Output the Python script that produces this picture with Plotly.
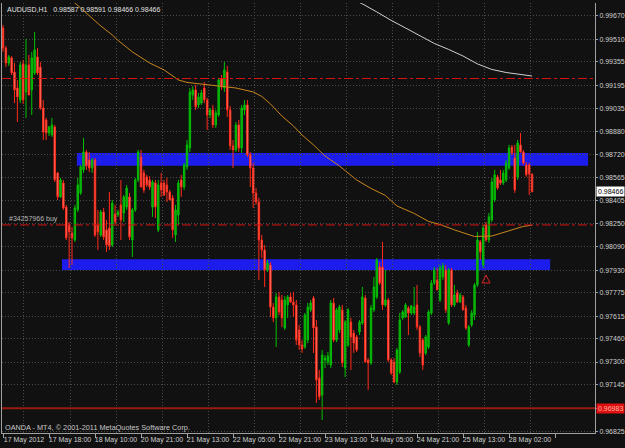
import plotly.graph_objects as go

# ---------------- data (AUDUSD H1) ----------------
opens = [0.99588,0.99451,0.99348,0.99383,0.99287,0.99177,0.99095,0.99342,0.99150,0.99335,
0.99164,0.99280,0.99390,0.99321,0.99040,0.98958,0.98869,0.98855,0.98910,0.98595,
0.98431,0.98526,0.98362,0.98239,0.98184,0.98136,0.98342,0.98458,0.98616,0.98739,
0.98684,0.98629,0.98684,0.98239,0.98170,0.98328,0.98205,0.98218,0.98102,0.98314,
0.98307,0.98376,0.98321,0.98362,0.98431,0.98136,0.98342,0.98547,0.98705,0.98595,
0.98568,0.98547,0.98362,0.98526,0.98205,0.98526,0.98526,0.98513,0.98465,0.98424,
0.98170,0.98307,0.98547,0.98499,0.98636,0.98766,0.99129,0.99164,0.99061,0.99074,
0.99177,0.99095,0.98992,0.99027,0.98924,0.98992,0.99239,0.99177,0.99287,0.99027,
0.98780,0.98753,0.98924,0.98766,0.99027,0.99061,0.98718,0.98629,0.98458,0.98396,
0.98136,0.98068,0.97931,0.97965,0.97677,0.97602,0.97746,0.97725,0.97533,0.97691,
0.97746,0.97711,0.97691,0.97520,0.97417,0.97403,0.97451,0.97657,0.97739,0.97540,
0.97190,0.97074,0.97314,0.97300,0.97280,0.97704,0.97451,0.97520,0.97657,0.97259,
0.97417,0.97574,0.97499,0.97472,0.97506,0.97567,0.97739,0.97314,0.97293,0.97657,
0.97746,0.97951,0.97951,0.97691,0.97725,0.97314,0.97300,0.97163,0.97232,0.97602,
0.97609,0.97670,0.97636,0.97636,0.97691,0.97540,0.97451,0.97362,0.97403,0.97636,
0.97841,0.97862,0.97725,0.97883,0.97931,0.97567,0.97931,0.97691,0.97773,0.97711,
0.97746,0.97670,0.97417,0.97554,0.97622,0.97828,0.98123,0.97965,0.98239,0.98136,
0.98273,0.98410,0.98568,0.98547,0.98526,0.98547,0.98629,0.98773,0.98698,0.98568,
0.98787,0.98739,0.98650,0.98650,0.98587]
highs = [0.99609,0.99465,0.99403,0.99396,0.99348,0.99232,0.99355,0.99369,0.99513,0.99403,
0.99424,0.99561,0.99451,0.99355,0.99095,0.98972,0.98917,0.98972,0.98924,0.98602,
0.98561,0.98547,0.98376,0.98259,0.98225,0.98376,0.98561,0.98650,0.98835,0.98753,
0.98739,0.98698,0.98698,0.98342,0.98342,0.98355,0.98273,0.98465,0.98410,0.98376,
0.98342,0.98547,0.98444,0.98513,0.98458,0.98355,0.98561,0.98753,0.98753,0.98616,
0.98582,0.98574,0.98547,0.98547,0.98547,0.98595,0.98547,0.98561,0.98479,0.98444,
0.98376,0.98547,0.98582,0.98663,0.98821,0.99177,0.99191,0.99198,0.99143,0.99164,
0.99218,0.99109,0.99040,0.99061,0.99027,0.99246,0.99266,0.99355,0.99328,0.99054,
0.98821,0.98944,0.98958,0.99061,0.99095,0.99095,0.98739,0.98663,0.98492,0.98424,
0.98170,0.98102,0.97999,0.97985,0.97704,0.97773,0.97780,0.97759,0.97752,0.97759,
0.97773,0.97780,0.97725,0.97554,0.97451,0.97636,0.97704,0.97725,0.97752,0.97588,
0.97246,0.97383,0.97348,0.97369,0.97725,0.97739,0.97670,0.97691,0.97691,0.97588,
0.97670,0.97602,0.97520,0.97485,0.97588,0.97814,0.97759,0.97327,0.97691,0.97883,
0.98013,0.97985,0.98123,0.97931,0.97739,0.97327,0.97327,0.97396,0.97636,0.97657,
0.97704,0.97684,0.97691,0.97814,0.97828,0.97554,0.97465,0.97485,0.97657,0.97862,
0.97951,0.97944,0.97965,0.97979,0.97965,0.97944,0.97944,0.97828,0.97794,0.97773,
0.97759,0.97691,0.97554,0.97657,0.97841,0.98191,0.98136,0.98239,0.98259,0.98321,
0.98561,0.98616,0.98582,0.98616,0.98616,0.98684,0.98787,0.98787,0.98787,0.98821,
0.98869,0.98753,0.98670,0.98663,0.98591]
lows = [0.99424,0.99321,0.99328,0.99266,0.99074,0.98944,0.99074,0.99068,0.98972,0.99129,
0.98992,0.99266,0.99266,0.99027,0.98821,0.98821,0.98848,0.98842,0.98533,0.98410,
0.98424,0.98342,0.98136,0.97944,0.97965,0.98123,0.98328,0.98444,0.98595,0.98616,
0.98602,0.98595,0.98157,0.98068,0.98157,0.98136,0.98054,0.98068,0.98088,0.98246,
0.98294,0.98136,0.98259,0.98342,0.98136,0.98020,0.98328,0.98533,0.98499,0.98458,
0.98499,0.98479,0.98294,0.98287,0.98191,0.98431,0.98437,0.98396,0.98410,0.98150,
0.98123,0.98239,0.98431,0.98479,0.98616,0.98739,0.99095,0.99027,0.99040,0.99061,
0.99074,0.98890,0.98972,0.98903,0.98903,0.98979,0.99164,0.99150,0.98979,0.98753,
0.98629,0.98739,0.98739,0.98732,0.98992,0.98705,0.98499,0.98355,0.98376,0.97862,
0.98013,0.97814,0.97917,0.97609,0.97574,0.97403,0.97622,0.97540,0.97520,0.97602,
0.97704,0.97609,0.97417,0.97383,0.97362,0.97389,0.97430,0.97643,0.97362,0.97020,
0.97040,0.96903,0.97259,0.97280,0.97259,0.97437,0.97437,0.97499,0.97266,0.97197,
0.97403,0.97246,0.97362,0.97369,0.97485,0.97554,0.97300,0.97109,0.97280,0.97643,
0.97732,0.97828,0.97657,0.97677,0.97300,0.97211,0.97156,0.97143,0.97218,0.97588,
0.97602,0.97485,0.97622,0.97622,0.97520,0.97335,0.97246,0.97348,0.97389,0.97622,
0.97828,0.97794,0.97711,0.97862,0.97636,0.97554,0.97677,0.97677,0.97704,0.97704,
0.97657,0.97520,0.97403,0.97540,0.97588,0.97814,0.97999,0.97944,0.98123,0.98116,
0.98259,0.98396,0.98479,0.98513,0.98513,0.98533,0.98616,0.98718,0.98458,0.98547,
0.98732,0.98650,0.98568,0.98444,0.98466]
closes = [0.99451,0.99348,0.99390,0.99280,0.99164,0.99116,0.99335,0.99095,0.99335,0.99129,
0.99383,0.99438,0.99280,0.99040,0.98876,0.98869,0.98910,0.98924,0.98547,0.98431,
0.98547,0.98355,0.98150,0.98191,0.98150,0.98355,0.98513,0.98636,0.98739,0.98643,
0.98629,0.98684,0.98170,0.98191,0.98328,0.98157,0.98102,0.98095,0.98389,0.98259,
0.98328,0.98273,0.98431,0.98492,0.98157,0.98342,0.98547,0.98739,0.98499,0.98479,
0.98513,0.98499,0.98533,0.98362,0.98513,0.98479,0.98444,0.98465,0.98410,0.98205,
0.98342,0.98526,0.98499,0.98650,0.98787,0.99150,0.99164,0.99047,0.99116,0.99143,
0.99095,0.98992,0.99027,0.98924,0.99006,0.99232,0.99184,0.99301,0.99027,0.98780,
0.98753,0.98924,0.98766,0.99040,0.99061,0.98718,0.98629,0.98458,0.98396,0.98136,
0.98068,0.97931,0.97979,0.97677,0.97602,0.97746,0.97643,0.97602,0.97725,0.97746,
0.97711,0.97691,0.97451,0.97417,0.97389,0.97622,0.97677,0.97704,0.97533,0.97177,
0.97061,0.97348,0.97327,0.97341,0.97704,0.97451,0.97657,0.97677,0.97293,0.97574,
0.97657,0.97472,0.97430,0.97383,0.97574,0.97746,0.97300,0.97293,0.97670,0.97814,
0.97999,0.97841,0.97691,0.97725,0.97314,0.97225,0.97163,0.97383,0.97588,0.97643,
0.97691,0.97636,0.97684,0.97677,0.97540,0.97362,0.97280,0.97472,0.97643,0.97841,
0.97931,0.97794,0.97944,0.97958,0.97657,0.97931,0.97691,0.97759,0.97711,0.97759,
0.97657,0.97533,0.97540,0.97636,0.97828,0.98136,0.98054,0.98218,0.98136,0.98294,
0.98533,0.98582,0.98492,0.98526,0.98595,0.98663,0.98766,0.98732,0.98479,0.98800,
0.98739,0.98663,0.98582,0.98588,0.98466]
bars = list(range(len(closes)))

# moving averages read at sampled bars
ma_slow_bars = [23, 26, 30, 34, 38, 40, 45, 51, 56, 61, 64, 70, 76, 81, 87, 90, 93, 97, 101,
                104, 108, 112, 117, 123, 128, 133, 137, 143, 148, 152, 157, 164, 170, 175, 181, 184]
ma_slow = [0.99794, 0.99742, 0.99670, 0.99602, 0.99540, 0.99503, 0.99424, 0.99348, 0.99301,
           0.99232, 0.99215, 0.99201, 0.99186, 0.99177, 0.99150, 0.99119, 0.99068, 0.98985,
           0.98917, 0.98855, 0.98787, 0.98711, 0.98643, 0.98547, 0.98489, 0.98441, 0.98369,
           0.98318, 0.98263, 0.98242, 0.98205, 0.98160, 0.98163, 0.98191, 0.98229, 0.98237]
ma_long_bars = [120, 125, 130, 135, 140, 145, 150, 155, 160, 165, 170, 175, 180, 184]
ma_long = [0.99800, 0.99753, 0.99698, 0.99640, 0.99588, 0.99533, 0.99482, 0.99441, 0.99396,
           0.99342, 0.99304, 0.99283, 0.99270, 0.99259]

# levels
tp_level = 0.99242
entry_level = 0.98239
sl_level = 0.96983
last_price = 0.98466
buy_arrow_bar = 168
buy_arrow_price = 0.97896

# zones: (start bar, end bar, top price, bottom price)
zone_upper = (25.7, 203.5, 0.98732, 0.98645)
zone_lower = (20.5, 190.3, 0.98004, 0.97931)

# time axis: a label every 16 bars, text starts at the tick (MT4 style)
x_label_bars = [0, 16, 32, 48, 64, 80, 96, 112, 128, 144, 160, 176]
x_label_text = ["17 May 2012", "17 May 18:00", "18 May 10:00", "20 May 21:00", "21 May 13:00",
                "22 May 05:00", "22 May 21:00", "23 May 13:00", "24 May 05:00", "24 May 21:00",
                "25 May 13:00", "28 May 02:00"]
label_center_offset = 7.3   # bars from the tick to the middle of its label / grid line
y_ticks = [0.99670, 0.99510, 0.99355, 0.99195, 0.99035, 0.98880, 0.98720, 0.98565, 0.98405,
           0.98250, 0.98090, 0.97930, 0.97775, 0.97615, 0.97460, 0.97300, 0.97145, 0.96985, 0.96825]
y_tick_text = ["%.5f" % v for v in y_ticks]
y_tick_text[y_ticks.index(0.96985)] = ""   # hidden under the stop-loss price label

# ---------------- figure ----------------
BG = "#111111"
FG = "#d0d0d0"
GRID = "#4a4a4a"
FONT = "Liberation Sans, Arial, sans-serif"
FS = 7

fig = go.Figure()

fig.add_trace(go.Candlestick(
    x=bars, open=opens, high=highs, low=lows, close=closes,
    increasing=dict(line=dict(color="#00c000", width=1), fillcolor="#1c9e1c"),
    decreasing=dict(line=dict(color="#ff2a1a", width=1), fillcolor="#ff9a8c"),
    whiskerwidth=0, showlegend=False, hoverinfo="skip"))

fig.add_trace(go.Scatter(x=ma_slow_bars, y=ma_slow, mode="lines",
                         line=dict(color="#c8861c", width=1), showlegend=False, hoverinfo="skip"))
fig.add_trace(go.Scatter(x=ma_long_bars, y=ma_long, mode="lines",
                         line=dict(color="#cfcfcf", width=1), showlegend=False, hoverinfo="skip"))
fig.add_trace(go.Scatter(x=[buy_arrow_bar], y=[buy_arrow_price], mode="markers",
                         marker=dict(symbol="arrow-up-open", size=8, color="#e02020",
                                     line=dict(color="#e02020", width=1)),
                         showlegend=False, hoverinfo="skip"))

shapes = []
for (x0, x1, top, bot) in (zone_upper, zone_lower):
    shapes.append(dict(type="rect", xref="x", yref="y", x0=x0, x1=x1, y0=bot, y1=top,
                       fillcolor="#1c1ced", line=dict(width=0), layer="below"))
shapes.append(dict(type="line", xref="paper", yref="y", x0=0, x1=1, y0=tp_level, y1=tp_level,
                   line=dict(color="#d81414", width=1, dash="dashdot")))
shapes.append(dict(type="line", xref="paper", yref="y", x0=0, x1=1, y0=entry_level, y1=entry_level,
                   line=dict(color="#d81414", width=1, dash="dashdot")))
shapes.append(dict(type="line", xref="paper", yref="y", x0=0, x1=1, y0=sl_level, y1=sl_level,
                   line=dict(color="#9a1a12", width=2)))

annotations = [
    dict(xref="paper", yref="paper", x=0, y=1, xanchor="left", yanchor="top", xshift=3, yshift=-1,
         text="AUDUSD,H1\u00a0\u00a0 0.98587 0.98591 0.98466 0.98466", showarrow=False,
         font=dict(family=FONT, size=FS, color="#e0e0e0")),
    dict(xref="paper", yref="y", x=0, y=entry_level, xanchor="left", yanchor="bottom", xshift=5,
         text="#34257966 buy", showarrow=False, font=dict(family=FONT, size=FS, color="#b8b8b8")),
    dict(xref="paper", yref="paper", x=0, y=0, xanchor="left", yanchor="bottom", xshift=1, yshift=-1,
         text="OANDA - MT4, \u00a9 2001-2011 MetaQuotes Software Corp.", showarrow=False,
         font=dict(family=FONT, size=7.3, color="#c8c8c8")),
    dict(xref="paper", yref="y", x=1, y=last_price, xanchor="left", yanchor="middle", xshift=1,
         text="0.98466", showarrow=False, bgcolor="#ffffff", borderpad=1,
         font=dict(family=FONT, size=FS, color="#000000")),
    dict(xref="paper", yref="y", x=1, y=sl_level, xanchor="left", yanchor="middle", xshift=1,
         text="0.96983", showarrow=False, bgcolor="#e01010", borderpad=1,
         font=dict(family=FONT, size=FS, color="#ffb0a0")),
]

fig.update_layout(
    width=625, height=448, margin=dict(l=2, r=30, t=3, b=15, autoexpand=False),
    paper_bgcolor=BG, plot_bgcolor=BG,
    font=dict(family=FONT, size=FS, color=FG),
    shapes=shapes, annotations=annotations, showlegend=False,
    xaxis=dict(range=[-0.35, 205.9], tickmode="array",
               tickvals=[b + label_center_offset for b in x_label_bars], ticktext=x_label_text,
               ticks="", showgrid=True, gridcolor=GRID, griddash="1px,2px", gridwidth=1,
               zeroline=False, showline=True, linecolor="#a0a0a0", linewidth=1,
               automargin=False, tickangle=0,
               tickfont=dict(family=FONT, size=FS, color=FG),
               minor=dict(tick0=0, dtick=16, ticks="outside", ticklen=4, tickcolor="#a0a0a0",
                          showgrid=False),
               rangeslider=dict(visible=False), fixedrange=True),
    yaxis=dict(side="right", range=[0.96814, 0.99759], tickmode="array", tickvals=y_ticks,
               ticktext=y_tick_text, ticks="outside", ticklen=2, tickcolor="#a0a0a0",
               showgrid=True, gridcolor=GRID, griddash="1px,2px", gridwidth=1, zeroline=False,
               showline=True, mirror=True, linecolor="#a0a0a0", linewidth=1, automargin=False,
               tickfont=dict(family=FONT, size=FS, color=FG), fixedrange=True),
)

fig.write_html("out.html")
